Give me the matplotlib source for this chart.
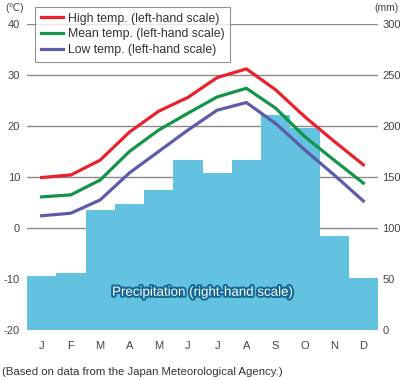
import matplotlib
matplotlib.use("Agg")
import matplotlib.pyplot as plt
import matplotlib.patheffects as pe
import numpy as np

months = ['J', 'F', 'M', 'A', 'M', 'J', 'J', 'A', 'S', 'O', 'N', 'D']
high = [9.9, 10.4, 13.3, 18.8, 22.9, 25.6, 29.5, 31.2, 27.1, 21.8, 17.0, 12.4]
mean = [6.1, 6.5, 9.4, 15.0, 19.2, 22.5, 25.7, 27.4, 23.5, 17.9, 13.3, 8.8]
low = [2.4, 2.9, 5.5, 10.8, 15.0, 19.2, 23.1, 24.6, 20.5, 15.3, 10.4, 5.3]
precip = [53, 55.5, 117.6, 124, 137, 167, 153.6, 167, 211, 198, 92, 50.7]
temp_ticks = [-20, -10, 0, 10, 20, 30, 40]
mm_ticks = [0, 50, 100, 150, 200, 250, 300]

plt.rcParams['font.family'] = ['Liberation Sans', 'DejaVu Sans']
plt.rcParams['axes.unicode_minus'] = False

fig = plt.figure(figsize=(4, 3.8), dpi=100)
ax2 = fig.add_axes([0.0675, 0.1316, 0.8775, 0.8052])
ax = ax2.twinx()
ax.set_zorder(ax2.get_zorder() + 1)
ax.patch.set_visible(False)

x = np.arange(len(months))
ax2.bar(x, precip, width=1.0, color='#63c2e0', zorder=2, linewidth=0)
ax2.set_ylim(0, 300)
ax2.set_xlim(-0.5, 11.5)
ax2.set_yticks(mm_ticks)
for t in mm_ticks:
    ax2.axhline(t, color='#8a8a8a', lw=1.0, zorder=1)
ax2.yaxis.tick_right()
ax2.tick_params(axis='y', length=0, pad=3, labelsize=8, labelcolor='#444444')
ax2.set_xticks(x)
ax2.set_xticklabels(months)
ax2.tick_params(axis='x', length=0, pad=8, labelsize=8, labelcolor='#444444')

ax.set_ylim(-20, 40)
ax.set_yticks(temp_ticks)
ax.yaxis.tick_left()
ax.tick_params(axis='y', length=0, pad=5, labelsize=8, labelcolor='#444444')

for a in (ax, ax2):
    for s in a.spines.values():
        s.set_visible(False)

ax.plot(x, high, color='#e8212b', lw=2.3, label='High temp. (left-hand scale)', solid_joinstyle='round')
ax.plot(x, mean, color='#139447', lw=2.3, label='Mean temp. (left-hand scale)', solid_joinstyle='round')
ax.plot(x, low, color='#5d5ca8', lw=2.3, label='Low temp. (left-hand scale)', solid_joinstyle='round')

leg = ax.legend(loc='upper left', bbox_to_anchor=(0.023, 1.055), fontsize=8.8,
                frameon=True, fancybox=False, edgecolor='#777777',
                handlelength=1.8, handletextpad=0.45, labelspacing=0.3,
                borderpad=0.45, borderaxespad=0)
leg.get_frame().set_linewidth(0.8)
for t in leg.get_texts():
    t.set_color('#333333')

ax2.text(5.52, 36.5, 'Precipitation (right-hand scale)', ha='center', va='center',
         fontsize=9.6, color='white', zorder=5,
         path_effects=[pe.withStroke(linewidth=3, foreground='#146a94')])

fig.text(5 / 400, 1 - 8 / 380, '(\u2103)', fontsize=7.5, color='#444444', va='center', ha='left')
fig.text(399 / 400, 1 - 8 / 380, '(mm)', fontsize=7.5, color='#444444', va='center', ha='right')
fig.text(2 / 400, 1 - 372 / 380, '(Based on data from the Japan Meteorological Agency.)',
         fontsize=8.2, color='#333333', va='center', ha='left')

fig.savefig('out.png', dpi=100)
